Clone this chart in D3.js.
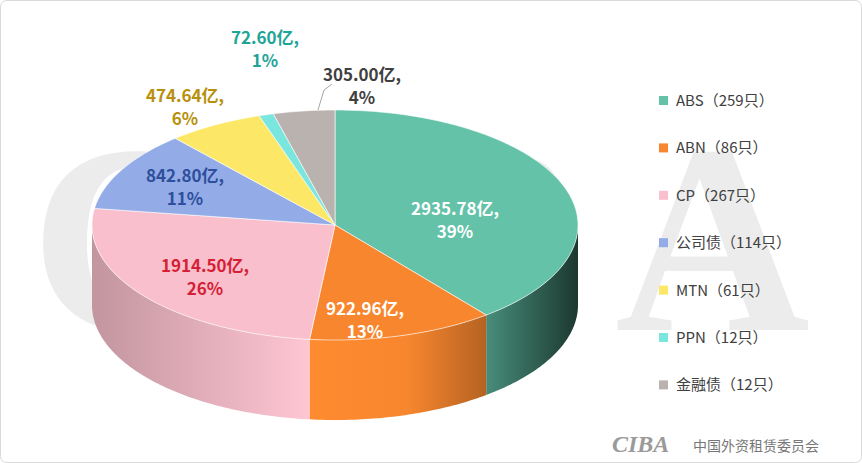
<!DOCTYPE html>
<html><head><meta charset="utf-8">
<script src="https://cdn.jsdelivr.net/npm/d3@7"></script>
<style>body{margin:0;background:#fff;font-family:"Microsoft YaHei","Noto Sans CJK SC",sans-serif}</style>
</head><body><svg id="c" width="862" height="463"></svg>
<script>
const categories=["ABS","ABN","CP","公司债","MTN","PPN","金融债"];
const counts=["259只","86只","267只","114只","61只","12只","12只"];
const values=[2935.78,922.96,1914.50,842.80,474.64,72.60,305.00];
const percents=["39%","13%","26%","11%","6%","1%","4%"];
const colors=["#63c2a8","#f7862e","#f9bfcc","#93abe6","#fce766","#7be6de","#bab2ae"];
const labelColors=["#ffffff","#ffffff","#d41f36","#2e4f9c","#b8900b","#1ea598","#404040"];
const labelPos=[[455,218],[365,318],[205,275],[185,185],[185,105],[265,47],[362,84]];

const svg=d3.select("#c");
svg.append("rect").attr("x",0.5).attr("y",0.5).attr("width",861).attr("height",462).attr("rx",6).attr("fill","#fff").attr("stroke","#d9d9d9");
// watermark
svg.append("text").attr("x",30).attr("y",330).attr("font-size",270).attr("font-weight","bold").attr("fill","#ececec").attr("font-family","Liberation Serif,serif").attr("textLength",780).text("CIBA");

const cx=335,cy=225,rx=243,ry=115,depth=80;
const pie=d3.pie().sort(null).startAngle(0).endAngle(2*Math.PI);
const arcs=pie(values);
const pt=(a,dy=0)=>[cx+rx*Math.sin(a),cy-ry*Math.cos(a)+dy];
const samp=(a0,a1,dy=0)=>{const n=Math.max(2,Math.ceil((a1-a0)*60));return d3.range(n+1).map(i=>pt(a0+(a1-a0)*i/n,dy));};
const line=d3.line();
const defs=svg.append("defs");
colors.forEach((c,i)=>{
  const g=defs.append("linearGradient").attr("id","g"+i).attr("gradientUnits","userSpaceOnUse").attr("x1",cx-rx).attr("x2",cx+rx).attr("y1",0).attr("y2",0);
  [[0,d3.color(c).darker(0.7)],[0.45,d3.color(c).brighter(0.1)],[0.65,d3.color(c)],[0.8,d3.color(c).darker(0.8)],[1,d3.color(c).darker(3.5)]].forEach(([o,col])=>g.append("stop").attr("offset",o).attr("stop-color",col));
});
// sides
arcs.forEach((d,i)=>{
  const a0=Math.max(d.startAngle,Math.PI/2),a1=Math.min(d.endAngle,3*Math.PI/2);
  if(a1<=a0)return;
  const top=samp(a0,a1),bot=samp(a0,a1,depth).reverse();
  svg.append("path").attr("d",line(top.concat(bot))+"Z").attr("fill","url(#g"+i+")");
});
// tops
arcs.forEach((d,i)=>{
  svg.append("path").attr("d",line([[cx,cy]].concat(samp(d.startAngle,d.endAngle)))+"Z").attr("fill",colors[i]).attr("stroke","#fff").attr("stroke-width",1).attr("stroke-opacity",0.6);
});
// leader line for 金融债
svg.append("path").attr("d","M318,110L324,90L332,84").attr("fill","none").attr("stroke","#a6a6a6").attr("stroke-width",1);
// labels
arcs.forEach((d,i)=>{
  const [x,y]=labelPos[i];
  const t=svg.append("text").attr("x",x).attr("y",y).attr("text-anchor","middle").attr("fill",labelColors[i]).attr("font-size",17).attr("font-weight","bold");
  t.append("tspan").attr("x",x).attr("dy","-0.15em").text(values[i].toFixed(2)+"亿,");
  t.append("tspan").attr("x",x).attr("dy","1.3em").text(percents[i]);
});
// legend
const lg=svg.append("g");
categories.forEach((c,i)=>{
  const y=101+i*47.4;
  lg.append("rect").attr("x",659).attr("y",y-5).attr("width",9).attr("height",9).attr("fill",colors[i]);
  lg.append("text").attr("x",676).attr("y",y+5).attr("font-size",15).attr("fill","#404040").text(c+"（"+counts[i]+"）");
});
// logo
svg.append("text").attr("x",612).attr("y",452).attr("font-size",24).attr("font-weight","bold").attr("font-style","italic").attr("fill","#9a9a9a").attr("font-family","Liberation Serif,serif").text("CIBA");
svg.append("text").attr("x",693).attr("y",451).attr("font-size",14).attr("fill","#777").text("中国外资租赁委员会");
</script></body></html>
